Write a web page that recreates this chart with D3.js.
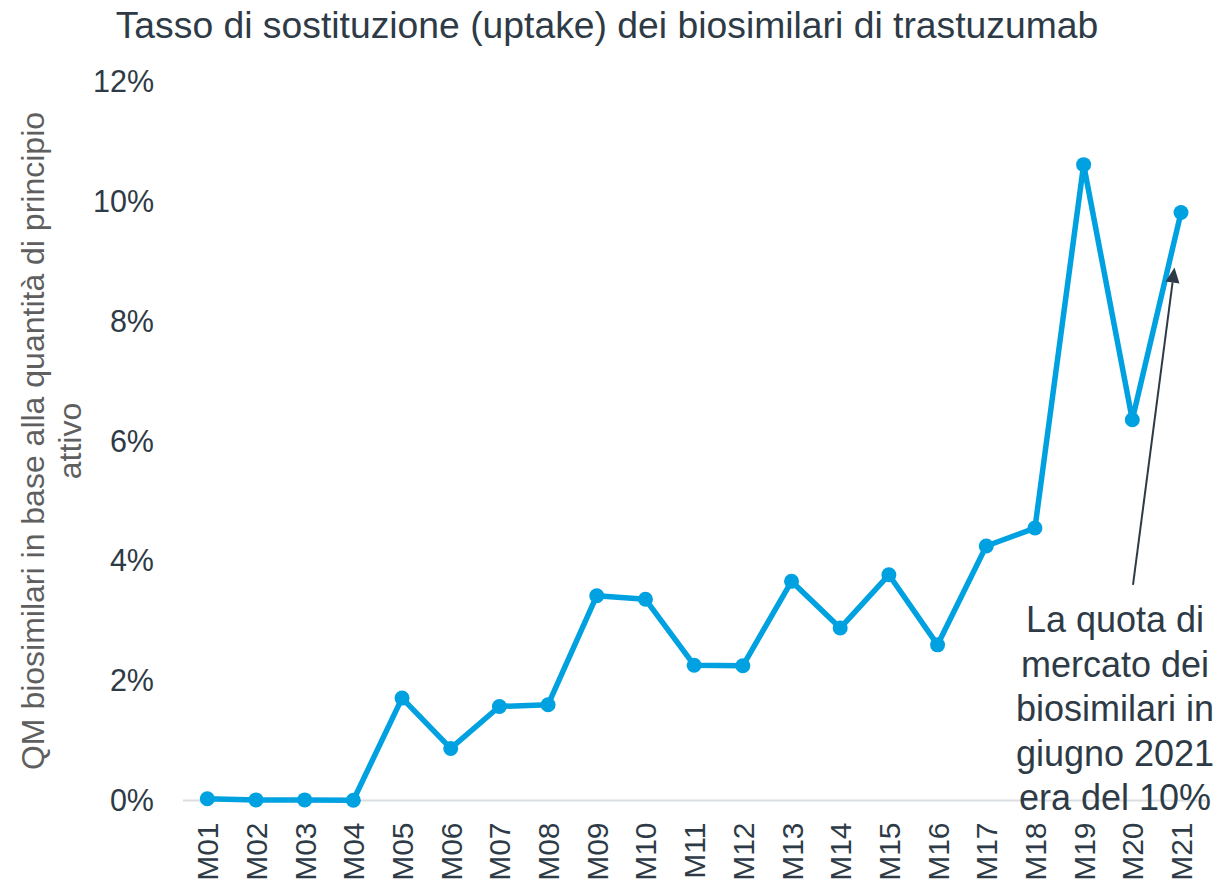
<!DOCTYPE html>
<html>
<head>
<meta charset="utf-8">
<script src="https://cdn.jsdelivr.net/npm/d3@7"></script>
<style>
  html, body { margin: 0; padding: 0; background: #fff; }
  svg { display: block; font-family: "Liberation Sans", Arial, sans-serif; }
</style>
</head>
<body>
<svg id="chart" width="1220" height="886"></svg>
<script>
const categories = ["M01","M02","M03","M04","M05","M06","M07","M08","M09","M10","M11","M12","M13","M14","M15","M16","M17","M18","M19","M20","M21"];
const uptake = [0.03, 0.01, 0.01, 0.005, 1.71, 0.87, 1.57, 1.60, 3.42, 3.36, 2.26, 2.25, 3.66, 2.88, 3.77, 2.60, 4.25, 4.55, 10.62, 6.36, 9.82];
const yTicks = [0, 2, 4, 6, 8, 10, 12];
const titleText = "Tasso di sostituzione (uptake) dei biosimilari di trastuzumab";
const yTitleLines = ["QM biosimilari in base alla quantità di principio", "attivo"];
const noteLines = ["La quota di", "mercato dei", "biosimilari in", "giugno 2021", "era del 10%"];

const textDark = "#2e3b46";
const lineBlue = "#00a1e0";

const svg = d3.select("#chart");

const x = d3.scalePoint().domain(categories).range([207.3, 1181]);
const y = d3.scaleLinear().domain([0, 12]).range([800.5, 82]);

// Title
svg.append("text")
  .attr("x", 607).attr("y", 38)
  .attr("text-anchor", "middle")
  .attr("font-size", 37.3)
  .attr("fill", textDark)
  .text(titleText);

// Y axis title
const yt = svg.append("text")
  .attr("transform", "translate(0,441) rotate(-90)")
  .attr("text-anchor", "middle")
  .attr("font-size", 32)
  .attr("fill", "#5f5f5f");
yTitleLines.forEach((l, i) => {
  yt.append("tspan").attr("x", 0).attr("y", 44 + i * 37).text(l);
});

// Y axis (labels only)
const yAxis = d3.axisLeft(y).tickValues(yTicks).tickFormat(d => d + "%").tickSize(0).tickPadding(0);
const gy = svg.append("g").attr("transform", "translate(154,0)").call(yAxis);
gy.select(".domain").remove();
gy.selectAll("text").attr("font-size", 30.5).attr("fill", textDark).attr("font-family", "Liberation Sans, Arial, sans-serif");

// X axis
const xAxis = d3.axisBottom(x).tickSize(0).tickPadding(0);
const gx = svg.append("g").attr("transform", "translate(0," + y(0) + ")").call(xAxis);
gx.select(".domain").remove();
gx.append("line").attr("x1", 183).attr("x2", 1206).attr("y1", 0).attr("y2", 0)
  .attr("stroke", "#d9dee2").attr("stroke-width", 2);
gx.selectAll(".tick text")
  .attr("font-size", 30).attr("fill", textDark)
  .attr("font-family", "Liberation Sans, Arial, sans-serif")
  .attr("text-anchor", "end")
  .attr("transform", "rotate(-90)")
  .attr("x", -22).attr("y", 0).attr("dy", "0.35em");

// Line
const data = categories.map((c, i) => ({c, v: uptake[i]}));
svg.append("path").datum(data)
  .attr("fill", "none").attr("stroke", lineBlue).attr("stroke-width", 5.5)
  .attr("stroke-linejoin", "round")
  .attr("d", d3.line().x(d => x(d.c)).y(d => y(d.v)));
svg.append("g").selectAll("circle").data(data).join("circle")
  .attr("cx", d => x(d.c)).attr("cy", d => y(d.v)).attr("r", 7.5)
  .attr("fill", lineBlue);

// Annotation arrow
const tipX = x("M21") - 6.5, tipY = y(8.9);
const startX = x("M21") - 48, startY = y(3.6);
const ang = Math.atan2(tipY - startY, tipX - startX);
const headLen = 15, headW = 7;
const bx = tipX - headLen * Math.cos(ang), by = tipY - headLen * Math.sin(ang);
svg.append("line").attr("x1", startX).attr("y1", startY).attr("x2", bx).attr("y2", by)
  .attr("stroke", textDark).attr("stroke-width", 2);
svg.append("path")
  .attr("d", `M${tipX},${tipY} L${bx + headW * Math.sin(ang)},${by - headW * Math.cos(ang)} L${bx - headW * Math.sin(ang)},${by + headW * Math.cos(ang)} Z`)
  .attr("fill", textDark);

// Annotation text
const note = svg.append("text").attr("text-anchor", "middle").attr("font-size", 36).attr("fill", textDark);
noteLines.forEach((l, i) => {
  note.append("tspan").attr("x", 1115).attr("y", 632 + i * 44.5).text(l);
});
</script>
</body>
</html>
